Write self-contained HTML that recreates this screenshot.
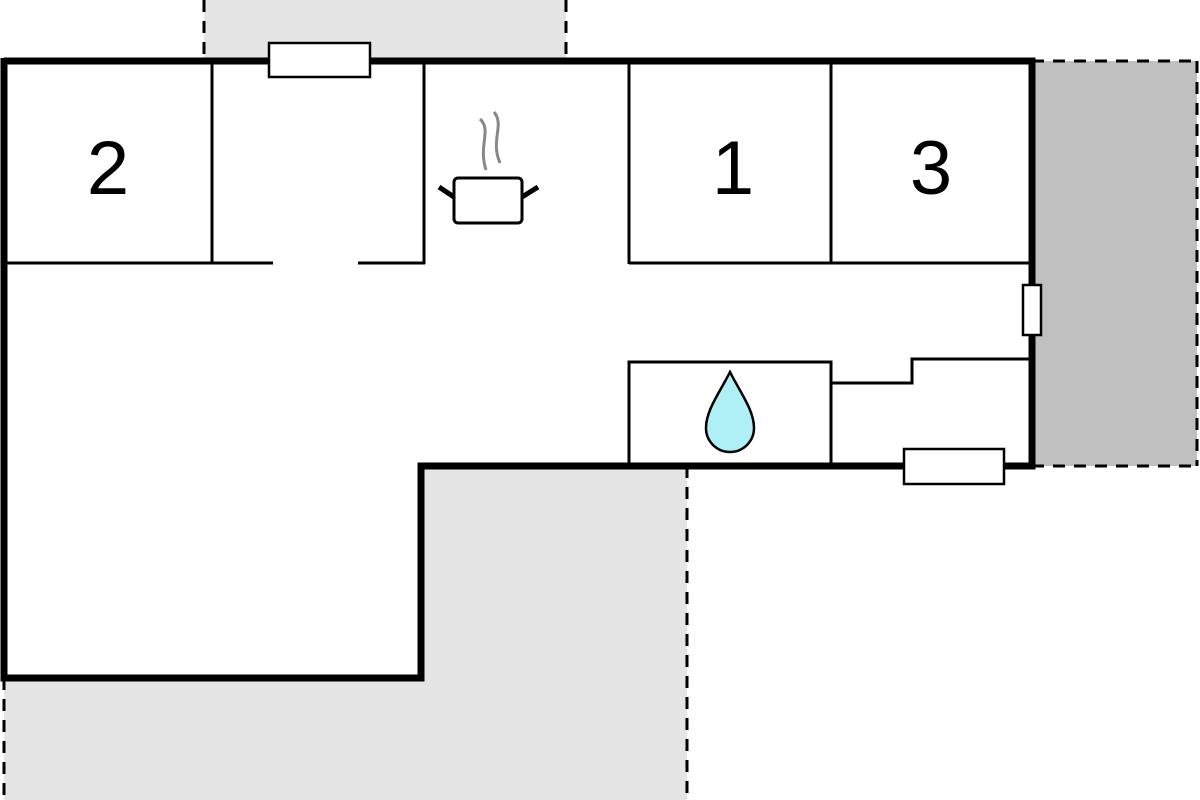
<!DOCTYPE html>
<html><head><style>html,body{margin:0;padding:0;background:#fff;width:1200px;height:800px;overflow:hidden}</style></head>
<body>
<svg width="1200" height="800" viewBox="0 0 1200 800" xmlns="http://www.w3.org/2000/svg">
<!-- outdoor areas -->
<rect x="204" y="0" width="362" height="61" fill="#e5e5e5"/>
<rect x="1035" y="61" width="162" height="405" fill="#c0c0c0"/>
<polygon points="421,466 687,466 687,800 4,800 4,678 421,678" fill="#e5e5e5"/>
<g stroke="#000" stroke-width="3" stroke-dasharray="12,9" fill="none">
<line x1="204" y1="0" x2="204" y2="61"/>
<line x1="566" y1="0" x2="566" y2="61"/>
<line x1="1032" y1="61" x2="1197" y2="61"/>
<line x1="1197" y1="61" x2="1197" y2="466"/>
<line x1="1032" y1="466" x2="1197" y2="466"/>
<line x1="687" y1="466" x2="687" y2="800"/>
<line x1="4" y1="678" x2="4" y2="800"/>
</g>
<!-- interior thin walls -->
<g stroke="#000" stroke-width="3" fill="none">
<line x1="212" y1="61" x2="212" y2="264"/>
<line x1="424" y1="61" x2="424" y2="264"/>
<line x1="4" y1="263" x2="273" y2="263"/>
<line x1="358" y1="263" x2="425" y2="263"/>
<line x1="629" y1="61" x2="629" y2="264"/>
<line x1="629" y1="263" x2="1032" y2="263"/>
<line x1="831" y1="61" x2="831" y2="263"/>
<rect x="629" y="362" width="202" height="104"/>
<polyline points="831,383 912,383 912,359 1032,359"/>
</g>
<!-- outer walls -->
<polyline points="4,61 1032,61 1032,466 421,466 421,678 4,678 4,58" stroke="#000" stroke-width="7" fill="none"/>
<!-- windows -->
<g fill="#fff" stroke="#000" stroke-width="2.5">
<rect x="269" y="43" width="101" height="34"/>
<rect x="1023" y="285" width="18" height="50"/>
<rect x="904" y="449" width="100" height="35"/>
</g>
<!-- numbers -->
<g font-family="Liberation Sans, sans-serif" font-size="76" text-anchor="middle" fill="#000">
<text x="108" y="194">2</text>
<text x="733" y="194">1</text>
<text x="931" y="194">3</text>
</g>
<!-- pot -->
<rect x="454" y="178" width="68" height="45" rx="4" fill="#fff" stroke="#000" stroke-width="3"/>
<line x1="454" y1="197" x2="439" y2="187" stroke="#000" stroke-width="5"/>
<line x1="522" y1="197" x2="538" y2="187" stroke="#000" stroke-width="5"/>
<path d="M480,119 C492,130 478,145 486,170 M494,112 C505,125 490,140 500,163" stroke="#888" stroke-width="3" fill="none"/>
<!-- water drop -->
<path d="M730,372 C720,392 706,410 706,428 A24,24 0 0 0 754,428 C754,410 740,392 730,372 Z" fill="#aef0f5" stroke="#000" stroke-width="2.5"/>
</svg>
</body></html>
